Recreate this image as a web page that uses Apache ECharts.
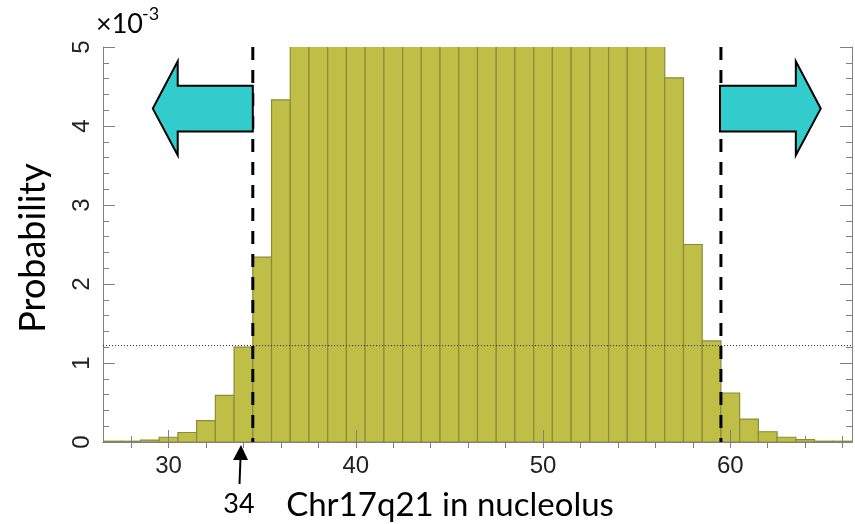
<!DOCTYPE html>
<html>
<head>
<meta charset="utf-8">
<script src="https://cdn.jsdelivr.net/npm/echarts@6/dist/echarts.min.js"></script>
<style>
  html, body { margin: 0; padding: 0; background: #fff; }
  #main { width: 855px; height: 524px; }
</style>
</head>
<body>
<div id="main"></div>
<script>
// histogram bins (1 unit wide), probability in units of 1e-3
var binCenters = [27, 28, 29, 30, 31, 32, 33, 34, 35, 36,
                  37, 38, 39, 40, 41, 42, 43, 44, 45, 46,
                  47, 48, 49, 50, 51, 52, 53, 54, 55, 56,
                  57, 58, 59, 60, 61, 62, 63, 64, 65, 66];
var probValues = [0.01, 0.01, 0.025, 0.06, 0.12, 0.27, 0.59, 1.20, 2.34, 4.33,
                  49, 49, 49, 49, 49, 49, 49, 49, 49, 49,
                  49, 49, 49, 49, 49, 49, 49, 49, 49, 49,
                  4.61, 2.50, 1.28, 0.62, 0.29, 0.13, 0.06, 0.03, 0.01, 0.01];
var cutoffs = [34.5, 59.5];
var thresholdLevel = 1.22;
var xLabelValues = [30, 40, 50, 60];
var xMinorValues = [28, 30, 32, 34, 36, 38, 40, 42, 44, 46, 48, 50, 52, 54, 56, 58, 60, 62, 64, 66];

var histData = binCenters.map(function (x, i) { return [x, probValues[i]]; });

var axisGray = '#808080';
var labelFont = 'Liberation Sans';
var textFont = 'Lato';

var myChart = echarts.init(document.getElementById('main'));

function renderBar(params, api) {
    var x = api.value(0);
    var y = api.value(1);
    var p0 = api.coord([x - 0.5, y]);
    var p1 = api.coord([x + 0.5, 0]);
    return {
        type: 'rect',
        shape: { x: p0[0], y: p0[1], width: p1[0] - p0[0], height: p1[1] - p0[1] },
        style: { fill: '#bfbf47', stroke: '#8b8b3b', lineWidth: 1.2 }
    };
}

var gridBox = { left: 103, right: 3, top: 47, bottom: 82 };

var option = {
    animation: false,
    grid: [
        { left: gridBox.left, right: gridBox.right, top: gridBox.top, bottom: gridBox.bottom },
        { left: gridBox.left, right: gridBox.right, top: gridBox.top, bottom: gridBox.bottom }
    ],
    xAxis: [
        {
            gridIndex: 0, type: 'value', position: 'bottom', min: 26.5, max: 66.5, z: 3,
            axisLine: { lineStyle: { color: axisGray, width: 1 } },
            axisTick: { inside: true, length: 12, customValues: xLabelValues, lineStyle: { color: axisGray } },
            axisLabel: { customValues: xLabelValues, margin: 12, fontSize: 24, color: '#222', fontFamily: labelFont },
            splitLine: { show: false }
        },
        {
            gridIndex: 0, type: 'value', position: 'top', min: 26.5, max: 66.5,
            axisLine: { lineStyle: { color: axisGray, width: 1 } },
            axisTick: { inside: true, length: 6, customValues: xMinorValues, lineStyle: { color: axisGray } },
            axisLabel: { show: false },
            splitLine: { show: false }
        },
        {
            gridIndex: 1, type: 'value', position: 'bottom', min: 26.5, max: 66.5, z: 1,
            axisLine: { show: false },
            axisTick: { inside: true, length: 6, customValues: xMinorValues, lineStyle: { color: axisGray } },
            axisLabel: { show: false },
            splitLine: { show: false }
        }
    ],
    yAxis: [
        {
            gridIndex: 0, type: 'value', position: 'left', min: 0, max: 5, interval: 1,
            axisLine: { show: true, lineStyle: { color: axisGray, width: 1 } },
            axisTick: { show: true, inside: true, length: 12, lineStyle: { color: axisGray } },
            minorTick: { show: true, splitNumber: 5, length: 6, lineStyle: { color: axisGray } },
            axisLabel: { rotate: 90, margin: 9, fontSize: 24, color: '#222', fontFamily: labelFont },
            splitLine: { show: false }
        },
        {
            gridIndex: 0, type: 'value', position: 'right', min: 0, max: 5, interval: 1,
            axisLine: { show: true, lineStyle: { color: axisGray, width: 1 } },
            axisTick: { show: true, inside: true, length: 12, lineStyle: { color: axisGray } },
            minorTick: { show: true, splitNumber: 5, length: 6, lineStyle: { color: axisGray } },
            axisLabel: { show: false },
            splitLine: { show: false }
        },
        { gridIndex: 1, type: 'value', min: 0, max: 5, show: false }
    ],
    series: [
        {
            type: 'custom',
            xAxisIndex: 0, yAxisIndex: 0,
            clip: true,
            renderItem: renderBar,
            data: histData,
            z: 2
        },
        {
            type: 'line', xAxisIndex: 0, yAxisIndex: 0, symbol: 'none', z: 5,
            data: [[cutoffs[0], 5], [cutoffs[0], 0]],
            lineStyle: { color: '#000', width: 3, type: [13, 10] }
        },
        {
            type: 'line', xAxisIndex: 0, yAxisIndex: 0, symbol: 'none', z: 5,
            data: [[cutoffs[1], 5], [cutoffs[1], 0]],
            lineStyle: { color: '#000', width: 3, type: [13, 10] }
        },
        {
            type: 'line', xAxisIndex: 0, yAxisIndex: 0, symbol: 'none', z: 6,
            data: [[26.5, thresholdLevel], [66.5, thresholdLevel]],
            lineStyle: { color: '#222', width: 1, type: [1, 2] }
        }
    ]
};

myChart.setOption(option);

// direction arrows outside the cutoffs (data coordinates)
var leftArrow = [[34.5, 4.51], [30.49, 4.51], [30.49, 4.82], [29.16, 4.22], [30.49, 3.63], [30.49, 3.93], [34.5, 3.93]];
var rightArrow = [[59.45, 4.51], [63.5, 4.51], [63.5, 4.82], [64.83, 4.22], [63.5, 3.63], [63.5, 3.93], [59.45, 3.93]];

function toPx(pts) {
    return pts.map(function (p) {
        return myChart.convertToPixel({ xAxisIndex: 0, yAxisIndex: 0 }, p);
    });
}

myChart.setOption({
    graphic: [
        { type: 'polygon', z: 20, shape: { points: toPx(leftArrow) },
          style: { fill: '#33cccc', stroke: '#000', lineWidth: 2 } },
        { type: 'polygon', z: 20, shape: { points: toPx(rightArrow) },
          style: { fill: '#33cccc', stroke: '#000', lineWidth: 2 } },
        { type: 'text', x: 96, y: 24, z: 20,
          style: { text: '×10', font: '27px ' + textFont, fill: '#000', textVerticalAlign: 'middle' } },
        { type: 'text', x: 142, y: 14, z: 20,
          style: { text: '-3', font: '18px ' + textFont, fill: '#000', textVerticalAlign: 'middle' } },
        { type: 'text', x: 33, y: 248, rotation: Math.PI / 2, z: 20,
          style: { text: 'Probability', font: '36px ' + textFont, fill: '#000', textAlign: 'center', textVerticalAlign: 'middle' } },
        { type: 'text', x: 450, y: 505, z: 20,
          style: { text: 'Chr17q21 in nucleolus', font: '33px ' + textFont, fill: '#000', textAlign: 'center', textVerticalAlign: 'middle' } },
        { type: 'text', x: 239, y: 504, z: 20,
          style: { text: '34', font: '27px ' + textFont, fill: '#000', textAlign: 'center', textVerticalAlign: 'middle' } },
        { type: 'line', z: 20, shape: { x1: 239.5, y1: 484, x2: 240.5, y2: 458 },
          style: { stroke: '#000', lineWidth: 2 } },
        { type: 'polygon', z: 20, shape: { points: [[233, 460], [248, 460], [241, 445]] },
          style: { fill: '#000' } }
    ]
});
</script>
</body>
</html>
